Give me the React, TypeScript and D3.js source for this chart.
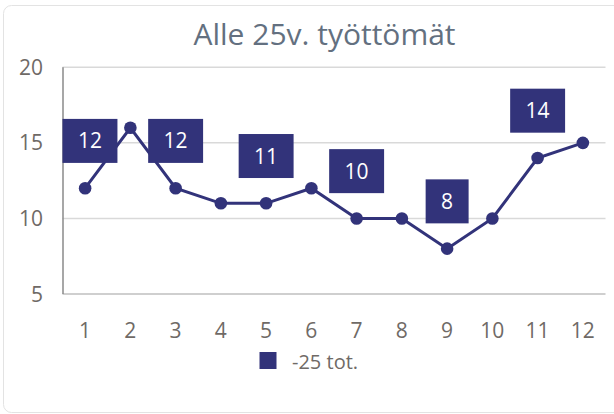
import React from 'react';
import * as d3 from 'd3';

const months: string[] = ['1', '2', '3', '4', '5', '6', '7', '8', '9', '10', '11', '12'];
const values: number[] = [12, 16, 12, 11, 11, 12, 10, 10, 8, 10, 14, 15];
const yTicks: number[] = [5, 10, 15, 20];
const labelShown: boolean[] = [true, false, true, false, true, false, true, false, true, false, true, false];
const seriesName = '-25 tot.';
const title = 'Alle 25v. työttömät';

const NAVY = '#32337a';
const FONT = "'Open Sans', 'Segoe UI', sans-serif";

export default function App() {
  const W = 614;
  const H = 414;
  const plotLeft = 62.5;
  const plotRight = 605.5;
  const plotTop = 67.3;
  const plotBottom = 294;

  const x = d3.scaleBand<string>().domain(months).range([plotLeft, plotRight]).padding(0);
  const y = d3.scaleLinear().domain([5, 20]).range([plotBottom, plotTop]);
  const cx = (m: string) => (x(m) as number) + x.bandwidth() / 2;

  const line = d3
    .line<number>()
    .x((_, i) => cx(months[i]))
    .y((v) => y(v));

  const labelFont = 21;
  const boxH = 44;
  const pad = 15.5;

  return (
    <svg
      width={W}
      height={H}
      style={{ position: 'fixed', left: 0, top: 0, background: '#fff' }}
      fontFamily={FONT}
    >
      <rect x={3.5} y={5.5} width={660} height={407} rx={8} ry={8} fill="#fff" stroke="#e3e3e3" strokeWidth={1} />
      <text x={324.5} y={45} textAnchor="middle" fontSize={30} fill="#637080">
        {title}
      </text>
      {yTicks.map((t) => (
        <g key={t}>
          {t !== 5 && (
            <line x1={plotLeft} x2={plotRight} y1={y(t)} y2={y(t)} stroke="#d9d9d9" strokeWidth={1.5} />
          )}
          <text x={43} y={y(t)} dy="0.36em" textAnchor="end" fontSize={21} fill="#6f6a66">
            {t}
          </text>
        </g>
      ))}
      <line x1={plotLeft} x2={plotRight} y1={plotBottom} y2={plotBottom} stroke="#cfcfcf" strokeWidth={2} />
      <line x1={plotLeft + 0.5} x2={plotLeft + 0.5} y1={plotTop} y2={plotBottom} stroke="#8a8a8a" strokeWidth={1.5} />
      {months.map((m) => (
        <text key={m} x={cx(m)} y={338} textAnchor="middle" fontSize={21} fill="#6f6a66">
          {m}
        </text>
      ))}
      <path d={line(values) || ''} fill="none" stroke={NAVY} strokeWidth={3} />
      {values.map((v, i) => (
        <circle key={i} cx={cx(months[i])} cy={y(v)} r={6.3} fill={NAVY} />
      ))}
      {values.map((v, i) => {
        if (!labelShown[i]) return null;
        const txt = String(v);
        const w = txt.length * 0.57 * labelFont + 2 * pad;
        let bx = cx(months[i]) - w / 2;
        bx = Math.max(plotLeft, Math.min(plotRight - w, bx));
        const by = y(v) - 25.3 - boxH;
        return (
          <g key={'l' + i}>
            <rect x={bx} y={by} width={w} height={boxH} fill={NAVY} />
            <text x={bx + w / 2} y={by + boxH / 2} dy="0.36em" textAnchor="middle" fontSize={labelFont} fill="#fff">
              {txt}
            </text>
          </g>
        );
      })}
      <rect x={259.5} y={352} width={17} height={17} fill={NAVY} />
      <text x={292} y={369} fontSize={20} fill="#6f6a66">
        {seriesName}
      </text>
    </svg>
  );
}
